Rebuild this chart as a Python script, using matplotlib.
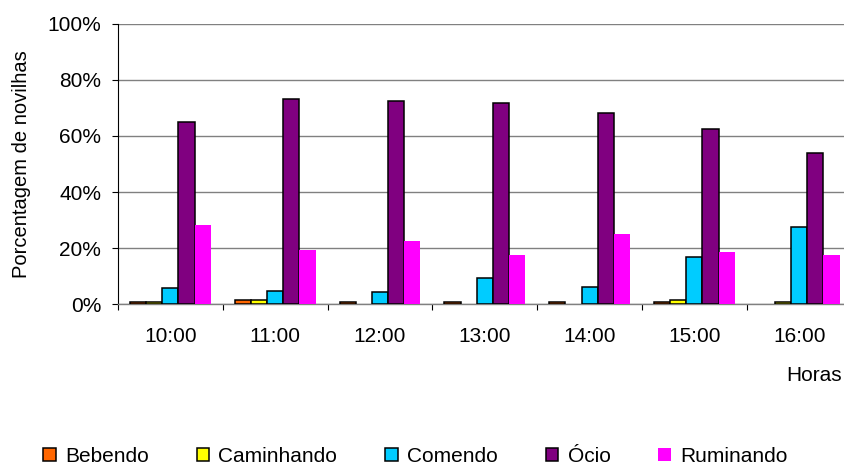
import numpy as np
import matplotlib
matplotlib.use("Agg")
import matplotlib.pyplot as plt
from matplotlib.ticker import FuncFormatter

plt.rcParams['font.family'] = ['Liberation Sans', 'DejaVu Sans']

# Data (percent of heifers per hour)
horas = ['10:00', '11:00', '12:00', '13:00', '14:00', '15:00', '16:00']
bebendo = [0.7, 1.4, 0.7, 0.7, 0.7, 0.7, 0.0]
caminhando = [0.7, 1.4, 0.0, 0.0, 0.0, 1.4, 0.7]
comendo = [5.7, 4.8, 4.4, 9.2, 6.3, 17.0, 27.7]
ocio = [64.9, 73.3, 72.6, 71.8, 68.3, 62.6, 54.0]
ruminando = [28.3, 19.4, 22.6, 17.6, 25.1, 18.6, 17.6]

series = [
    ('Bebendo', bebendo, '#FF6600', 'black'),
    ('Caminhando', caminhando, '#FFFF00', 'black'),
    ('Comendo', comendo, '#00CCFF', 'black'),
    ('Ócio', ocio, '#800080', 'black'),
    ('Ruminando', ruminando, '#FF00FF', 'none'),
]

fs = 15
fig = plt.figure(figsize=(8.44, 4.68), dpi=100)
ax = fig.add_axes([118 / 844, 1 - 304.3 / 468, 733.6 / 844, 280.6 / 468])

x = np.arange(len(horas))
w = 1 / 6.5  # excel gap width 150%
handles = []
for i, (name, vals, col, ec) in enumerate(series):
    vals = np.array(vals)
    keep = vals > 0  # excel draws nothing for zero values
    b = ax.bar(x[keep] + (i - 2) * w, vals[keep], width=w, color=col,
               edgecolor=ec, linewidth=1.1, label=name, zorder=3)
    handles.append(b)

ax.set_xlim(-0.5, len(horas) - 0.5)
ax.set_ylim(0, 100)
ax.set_yticks([0, 20, 40, 60, 80, 100])
ax.yaxis.set_major_formatter(FuncFormatter(lambda v, p: f"{v:.0f}%"))
ax.grid(axis='y', color='#808080', linewidth=1.0, zorder=0)

ax.set_xticks(x)
ax.set_xticklabels(horas)
ax.set_xticks(np.arange(-0.5, len(horas)), minor=True)
ax.tick_params(axis='x', which='major', length=0, pad=16.5, labelsize=fs)
ax.tick_params(axis='x', which='minor', length=4.5, width=0.8, color='black')
ax.tick_params(axis='y', length=4, width=0.8, pad=8, labelsize=fs)

for s in ['top', 'right']:
    ax.spines[s].set_visible(False)
ax.spines['left'].set_color('black')
ax.spines['left'].set_linewidth(0.8)
ax.spines['bottom'].set_color('#808080')
ax.spines['bottom'].set_linewidth(1.0)

ax.set_ylabel('Porcentagem de novilhas', fontsize=14.5)
ax.yaxis.set_label_coords(-0.118, 0.5)

fig.text(842 / 844, 1 - 380.7 / 468, 'Horas', ha='right', va='baseline', fontsize=fs)

fig.legend(handles=handles, loc='center left', bbox_to_anchor=(43 / 844, 1 - 456 / 468),
           ncol=5, frameon=False, fontsize=fs, handlelength=0.6, handleheight=0.6,
           handletextpad=0.45, columnspacing=2.3, borderpad=0, borderaxespad=0)

fig.savefig('out.png', dpi=100)
